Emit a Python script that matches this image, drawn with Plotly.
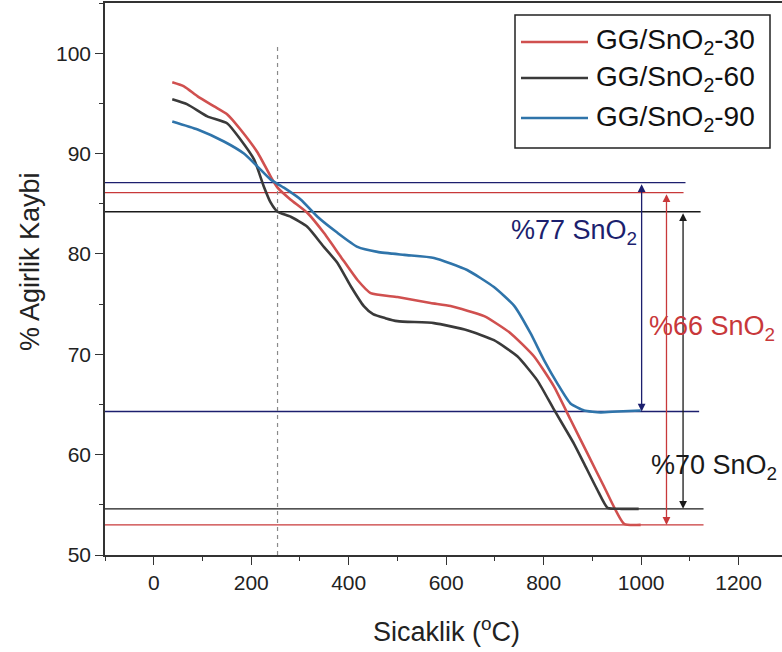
import plotly.graph_objects as go

# ---------------- data ----------------
names = ["GG/SnO<sub>2</sub>-30", "GG/SnO<sub>2</sub>-60", "GG/SnO<sub>2</sub>-90"]

temp_30 = [38, 62, 90, 124, 151, 178, 213, 240, 254, 281, 315, 349, 384, 418, 445, 500, 568, 609, 678, 732, 780, 821, 855, 890, 924, 965, 999]
wt_30 = [97.1, 96.7, 95.7, 94.7, 93.9, 92.4, 90.1, 87.7, 86.6, 85.4, 84.1, 82.1, 79.7, 77.4, 76.1, 75.7, 75.1, 74.8, 73.8, 72.1, 69.8, 66.8, 63.5, 60.1, 56.8, 53.1, 53.0]

temp_60 = [38, 69, 110, 151, 178, 206, 226, 240, 254, 281, 315, 349, 377, 404, 431, 450, 475, 500, 575, 643, 698, 746, 787, 821, 862, 883, 910, 931, 960, 995]
wt_60 = [95.4, 94.9, 93.7, 93.0, 91.4, 89.4, 86.7, 85.1, 84.2, 83.7, 82.7, 80.7, 79.1, 76.8, 74.8, 74.0, 73.6, 73.3, 73.1, 72.4, 71.4, 69.8, 67.4, 64.5, 61.1, 59.1, 56.5, 54.7, 54.6, 54.6]

temp_90 = [38, 90, 144, 185, 213, 240, 267, 302, 336, 377, 418, 459, 514, 575, 643, 698, 740, 773, 801, 828, 855, 883, 917, 951, 999]
wt_90 = [93.2, 92.4, 91.2, 90.0, 88.7, 87.4, 86.6, 85.4, 83.7, 82.1, 80.7, 80.2, 79.9, 79.6, 78.4, 76.7, 74.8, 72.1, 69.4, 67.1, 65.1, 64.4, 64.2, 64.3, 64.4]

# horizontal reference levels (weight %) and their right ends (deg C)
ref_levels = [87.1, 86.1, 84.2, 64.3, 54.6, 53.0]
ref_ends = [1091, 1087, 1122, 1119, 1128, 1128]
ref_kinds = ["navy", "red", "black", "navy", "black", "red"]

# vertical dashed marker
vline_x = [254, 254]
vline_y = [50, 100.8]

# double arrows: x, top, bottom
arrow_x = [1001, 1052, 1086]
arrow_top = [87.1, 86.1, 84.2]
arrow_bot = [64.3, 53.0, 54.6]
arrow_kinds = ["navy", "red", "black"]

# labels
label_text = ["%77 SnO<sub>2</sub>", "%66 SnO<sub>2</sub>", "%70 SnO<sub>2</sub>"]
label_x = [729, 1011, 1016]
label_y = [82.2, 72.6, 58.8]
label_kinds = ["navy", "red", "black"]

x_ticks = [0, 200, 400, 600, 800, 1000, 1200]
y_ticks = [50, 60, 70, 80, 90, 100]

# ---------------- styles ----------------
curve_colors = ["#d0504f", "#3a3a3a", "#2f74aa"]
kind_color = {"navy": "#1c1f6e", "red": "#c8383a", "black": "#1a1a1a"}
FONT = "Liberation Sans, Arial, sans-serif"

W, H = 782, 652
ML, MR, MT, MB = 105, 0, 3, 97
PW, PH = W - ML - MR, H - MT - MB


def px_x(p):
    return (p - ML) / PW


def px_y(p):
    return (H - MB - p) / PH


fig = go.Figure()

# reference horizontal lines
for lvl, end, kind in zip(ref_levels, ref_ends, ref_kinds):
    fig.add_trace(go.Scatter(x=[-100, end], y=[lvl, lvl], mode="lines",
                             line=dict(color=kind_color[kind], width=1.3),
                             showlegend=False, hoverinfo="skip"))

# dashed vertical
fig.add_trace(go.Scatter(x=vline_x, y=vline_y, mode="lines",
                         line=dict(color="#8a8a8a", width=1.2, dash="4px,4px"),
                         showlegend=False, hoverinfo="skip"))

# curves
for name, xs, ys, c in zip(names, [temp_30, temp_60, temp_90], [wt_30, wt_60, wt_90], curve_colors):
    fig.add_trace(go.Scatter(x=xs, y=ys, mode="lines", name=name, showlegend=False,
                             line=dict(color=c, width=2.6, shape="spline", smoothing=0.5)))

# arrows
for ax_, t, b, kind in zip(arrow_x, arrow_top, arrow_bot, arrow_kinds):
    fig.add_annotation(x=ax_, y=b, ax=ax_, ay=t, xref="x", yref="y", axref="x", ayref="y",
                       text="", showarrow=True, arrowhead=2, arrowside="end+start",
                       arrowsize=1.2, arrowwidth=1.3, arrowcolor=kind_color[kind])

# text labels
for txt, lx, ly, kind in zip(label_text, label_x, label_y, label_kinds):
    fig.add_annotation(x=lx, y=ly, xref="x", yref="y", text=txt, showarrow=False,
                       xanchor="left", yanchor="middle",
                       font=dict(family=FONT, size=27, color=kind_color[kind]))

# axis titles
fig.add_annotation(x=px_x(446), y=px_y(630), xref="paper", yref="paper",
                   text="Sicaklik (<sup>o</sup>C)",
                   showarrow=False, xanchor="center", yanchor="middle",
                   font=dict(family=FONT, size=27, color="#222"))
fig.add_annotation(x=px_x(30), y=px_y(262), xref="paper", yref="paper", text="% Agirlik Kaybi",
                   showarrow=False, textangle=-90, xanchor="center", yanchor="middle",
                   font=dict(family=FONT, size=27, color="#222"))

# legend (drawn manually to match the long line samples of the original)
leg_box = (515, 15, 770, 148)
leg_rows = [42, 78, 118]
fig.add_shape(type="rect", xref="paper", yref="paper",
              x0=px_x(leg_box[0]), x1=px_x(leg_box[2]),
              y0=px_y(leg_box[3]), y1=px_y(leg_box[1]),
              line=dict(color="#222", width=1.5), fillcolor="white", layer="above")
for name, c, ry in zip(names, curve_colors, leg_rows):
    fig.add_shape(type="line", xref="paper", yref="paper",
                  x0=px_x(521), x1=px_x(588), y0=px_y(ry), y1=px_y(ry),
                  line=dict(color=c, width=2.4), layer="above")
    fig.add_annotation(x=px_x(594), y=px_y(ry), xref="paper", yref="paper",
                       text=name, showarrow=False, xanchor="left", yanchor="middle",
                       font=dict(family=FONT, size=28, color="#111"))

axis_common = dict(showgrid=False, zeroline=False, showline=True, linecolor="#333",
                   linewidth=1.5, ticks="outside", ticklen=8, tickwidth=1.3,
                   tickcolor="#333", tickfont=dict(family=FONT, size=21, color="#222"))

fig.update_xaxes(range=[-100, 1289], tickvals=x_ticks, mirror=True,
                 minor=dict(dtick=100, tick0=-100, ticks="outside", ticklen=4, tickcolor="#333"),
                 **axis_common)
fig.update_yaxes(range=[50, 105], tickvals=y_ticks,
                 minor=dict(dtick=5, tick0=50, ticks="outside", ticklen=4, tickcolor="#333"),
                 **axis_common)

fig.update_layout(
    width=W, height=H,
    margin=dict(l=ML, r=MR, t=MT, b=MB),
    plot_bgcolor="white", paper_bgcolor="white",
    font=dict(family=FONT, color="#222"),
    showlegend=False,
)

fig.write_html("out.html")
